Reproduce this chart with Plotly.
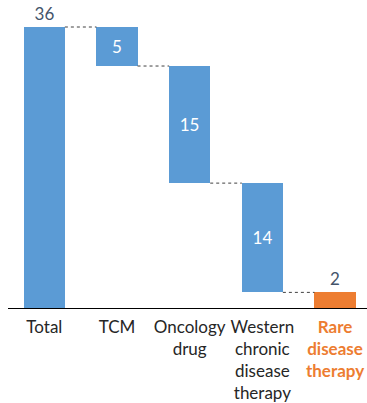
import plotly.graph_objects as go

# Market breakdown: total followed by segment contributions
categories = ["Total", "TCM", "Oncology drug", "Western chronic disease therapy", "Rare disease therapy"]
tick_labels = [
    "Total",
    "TCM",
    "Oncology<br>drug",
    "Western<br>chronic<br>disease<br>therapy",
    "<b><span style='color:#ED7D31'>Rare<br>disease<br>therapy</span></b>",
]
values = [36, 5, 15, 14, 2]

BLUE = "#5B9BD5"
ORANGE = "#ED7D31"
FONT = "Lato, Carlito, Calibri, sans-serif"

# Floating bases: each segment hangs down from the running remainder
bases = [0]
running = values[0]
for v in values[1:]:
    running -= v
    bases.append(running)

colors = [BLUE] * (len(values) - 1) + [ORANGE]
text_pos = ["outside", "inside", "inside", "inside", "outside"]
text_col = ["#44546A", "white", "white", "white", "#44546A"]

x = list(range(len(categories)))
bar_width = 0.565

fig = go.Figure(
    go.Bar(
        x=x,
        y=values,
        base=bases,
        width=bar_width,
        marker=dict(color=colors, line=dict(width=0)),
        text=[str(v) for v in values],
        textposition=text_pos,
        textfont=dict(family=FONT, size=17, color=text_col),
        insidetextanchor="middle",
        cliponaxis=False,
        hoverinfo="skip",
    )
)

# Dashed connectors between adjacent bars at the running level
for i in range(len(values) - 1):
    level = bases[i] + values[i] if i == 0 else bases[i]
    fig.add_shape(
        type="line",
        xref="x", yref="y",
        x0=x[i] + bar_width / 2, x1=x[i + 1] - bar_width / 2,
        y0=level, y1=level,
        line=dict(color="#404040", width=1, dash="dot"),
    )

fig.update_layout(
    width=367,
    height=403,
    margin=dict(l=8, r=0, t=0, b=95),
    paper_bgcolor="white",
    plot_bgcolor="white",
    showlegend=False,
    bargap=0,
    uniformtext=dict(mode=False),
    font=dict(family=FONT, color="#404040", size=17),
)
fig.update_xaxes(
    range=[-0.5, 4.44],
    tickmode="array",
    tickvals=x,
    ticktext=tick_labels,
    tickangle=0,
    showline=True,
    linecolor="black",
    linewidth=1.3,
    showgrid=False,
    zeroline=False,
    ticks="",
    ticklabelstandoff=3,
    tickfont=dict(family=FONT, size=17, color="#262626"),
    fixedrange=True,
)
fig.update_yaxes(
    range=[0, 39.46],
    visible=False,
    showgrid=False,
    zeroline=False,
    fixedrange=True,
)

fig.write_html("out.html")
